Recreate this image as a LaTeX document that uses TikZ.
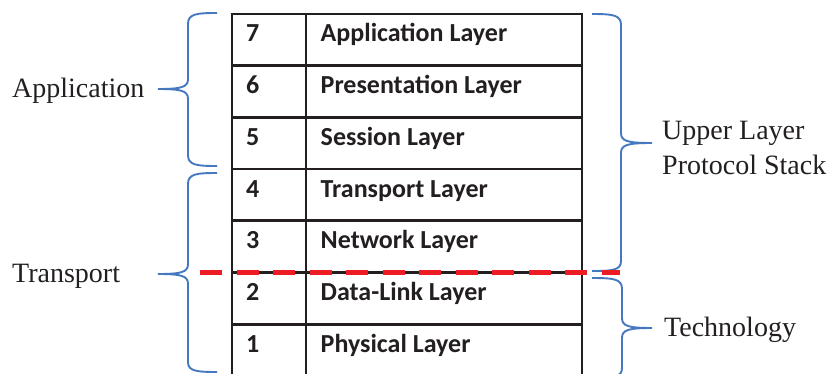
\documentclass[tikz,border=0pt]{standalone}
\usepackage{fontspec}
\setmainfont{Liberation Serif}
\newfontfamily\tabfont{Carlito}
\definecolor{braceblue}{RGB}{70,120,192}
\definecolor{cutred}{RGB}{237,28,36}
\definecolor{ink}{RGB}{35,31,32}
\begin{document}
\begin{tikzpicture}[x=1pt,y=-1pt,
  grid/.style={draw=ink, line width=2.8pt},
  brace/.style={draw=braceblue, line width=1.9pt},
  cut/.style={draw=cutred, line width=5pt, dash pattern=on 22pt off 14.5pt},
  cell/.style={font=\tabfont\bfseries\fontsize{26}{30}\selectfont, text=ink, anchor=base west, inner sep=0pt},
  side/.style={font=\fontsize{28}{35}\selectfont, text=ink, anchor=base west, inner sep=0pt}]
\useasboundingbox (0,0) rectangle (832,374);
\clip (0,0) rectangle (832,374);

% layer table
\foreach \k in {0,...,7}
  \draw[grid] (230.6,{14+51.7*\k}) -- (583.4,{14+51.7*\k});
\foreach \x in {232,306,582}
  \draw[grid] (\x,14) -- (\x,390);

% layer numbers and names
\foreach \n/\name [count=\i from 0] in {7/Application Layer,6/Presentation Layer,5/Session Layer,4/Transport Layer,3/Network Layer,2/Data-Link Layer,1/Physical Layer}{
  \node[cell] (num\n) at (246,{14+51.7*\i+28}) {\n};
  \node[cell] (lay\n) at (320.5,{14+51.7*\i+28}) {\name};
}

% left braces
\draw[brace] (217,13) .. controls (196,13) and (188,14) .. (188,24) -- (188,79)
  .. controls (188,87) and (182,89) .. (158,89)
  .. controls (182,89) and (188,91) .. (188,99) -- (188,155)
  .. controls (188,165) and (196,166) .. (217,166);
\draw[brace] (217,173) .. controls (196,173) and (188,174) .. (188,184) -- (188,264)
  .. controls (188,272) and (182,274) .. (158,274)
  .. controls (182,274) and (188,276) .. (188,284) -- (188,362)
  .. controls (188,371) and (196,372) .. (217,372);

% right braces
\draw[brace] (592,14) .. controls (613,14) and (621,15) .. (621,25) -- (621,133)
  .. controls (621,141) and (627,143) .. (652,143)
  .. controls (627,143) and (621,145) .. (621,153) -- (621,261)
  .. controls (621,270) and (613,271) .. (592,271);
\draw[brace] (592,278) .. controls (614,278) and (622,279) .. (622,289) -- (622,318)
  .. controls (622,326) and (628,328) .. (652,328)
  .. controls (628,328) and (622,330) .. (622,338) -- (622,368)
  .. controls (622,377) and (614,378) .. (592,378);

% side labels
\node[side] (app) at (12,98) {Application};
\node[side] (trans) at (12,282) {Transport};
\node[side] (upper1) at (662,140) {Upper Layer};
\node[side] (upper2) at (662,175) {Protocol Stack};
\node[side] (tech) at (664,336) {Technology};

% boundary between upper layers and technology
\draw[cut] (200,272.5) -- (620,272.5);
\end{tikzpicture}
\end{document}
